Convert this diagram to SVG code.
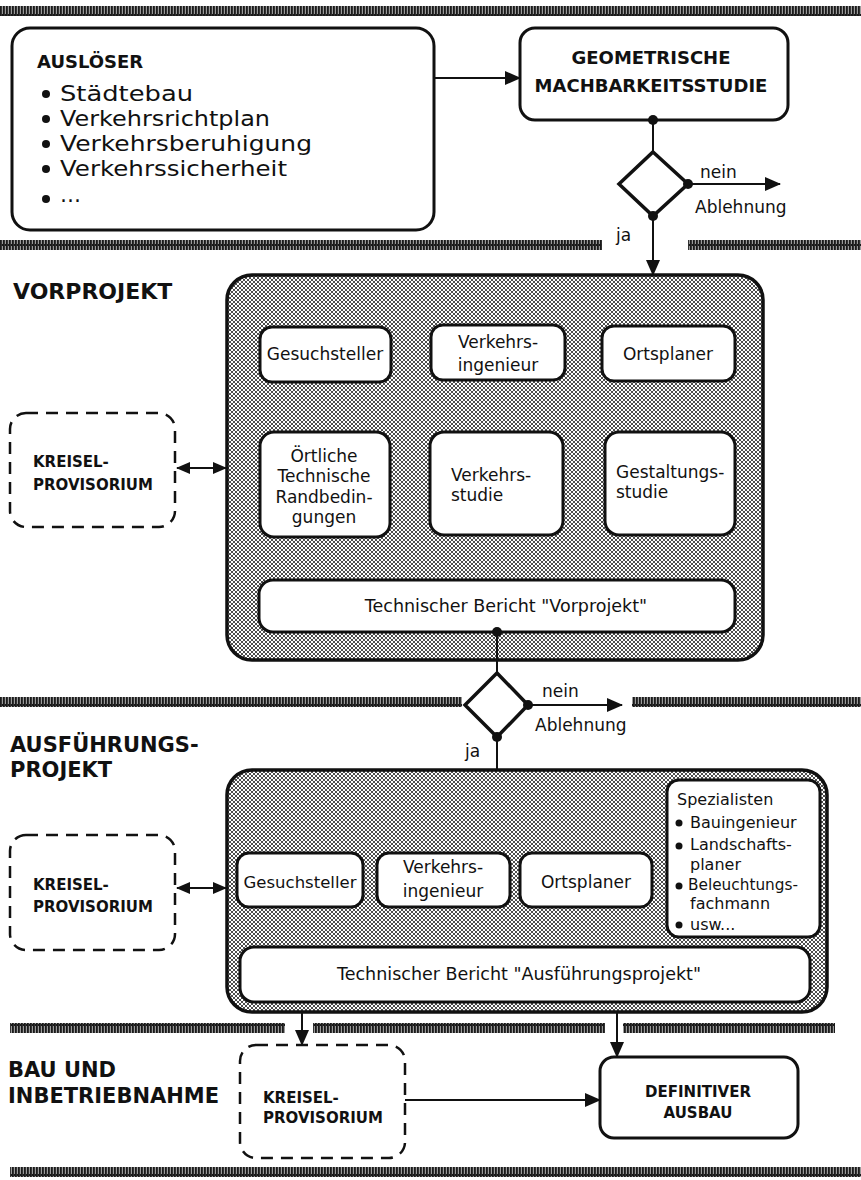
<svg xmlns="http://www.w3.org/2000/svg" width="861" height="1180" viewBox="0 0 861 1180">
<defs>
<pattern id="hatch" patternUnits="userSpaceOnUse" width="4" height="4">
<rect width="4" height="4" fill="#ffffff"/>
<path d="M0 0L4 4M4 0L0 4" stroke="#3a3a3a" stroke-width="0.9"/>
</pattern>
<pattern id="barpat" patternUnits="userSpaceOnUse" width="3" height="10">
<rect width="3" height="10" fill="#9a9a9a"/>
<rect x="0" y="0" width="1.8" height="10" fill="#1a1a1a"/>
<rect x="1.8" y="4" width="1.2" height="2" fill="#1a1a1a"/>
</pattern>
<marker id="ah" viewBox="0 0 16 14" refX="15" refY="7" markerWidth="16" markerHeight="14" markerUnits="userSpaceOnUse" orient="auto-start-reverse">
<path d="M0 0L16 7L0 14z" fill="#111"/>
</marker>
<marker id="ahs" viewBox="0 0 14 12" refX="13" refY="6" markerWidth="14" markerHeight="12" markerUnits="userSpaceOnUse" orient="auto-start-reverse">
<path d="M0 0L14 6L0 12z" fill="#111"/>
</marker>
</defs>
<style>
.box{fill:#fff;stroke:#111;stroke-width:3}
.big{fill:url(#hatch);stroke:#111;stroke-width:3.5}
.dash{fill:#fff;stroke:#111;stroke-width:2.5;stroke-dasharray:12 8}
.bar{fill:url(#barpat)}
.t{font-family:"DejaVu Sans","Liberation Sans",sans-serif;fill:#111}
.b{font-family:"DejaVu Sans","Liberation Sans",sans-serif;font-weight:bold;fill:#111}
.ln{stroke:#111;stroke-width:2;fill:none}
.dot{fill:#111}
.dia{fill:#fff;stroke:#111;stroke-width:3.5}
</style>
<rect width="861" height="1180" fill="#fff"/>

<g id="separators">
<rect class="bar" x="0" y="6" width="861" height="10"/>
<rect class="bar" x="0" y="240" width="602" height="10"/>
<rect class="bar" x="688" y="240" width="173" height="10"/>
<rect class="bar" x="0" y="697" width="462" height="10"/>
<rect class="bar" x="632" y="697" width="229" height="10"/>
<rect class="bar" x="10" y="1023" width="275" height="10"/>
<rect class="bar" x="313" y="1023" width="292" height="10"/>
<rect class="bar" x="623" y="1023" width="212" height="10"/>
<rect class="bar" x="10" y="1167" width="851" height="10"/>
</g>

<g id="phase-labels">
<text class="b" x="13" y="299" font-size="22">VORPROJEKT</text>
<text class="b" x="10" y="752" font-size="21">AUSFÜHRUNGS-</text>
<text class="b" x="10" y="777" font-size="21">PROJEKT</text>
<text class="b" x="8" y="1077" font-size="21">BAU UND</text>
<text class="b" x="8" y="1103" font-size="21">INBETRIEBNAHME</text>
</g>

<g id="ausloeser">
<rect class="box" x="12" y="28" width="422" height="202" rx="18"/>
<text class="b" x="37" y="68" font-size="18">AUSLÖSER</text>
<g class="t" font-size="21" lengthAdjust="spacingAndGlyphs">
<circle class="dot" cx="46" cy="94" r="4"/><text x="60" y="101" textLength="133" lengthAdjust="spacingAndGlyphs">Städtebau</text>
<circle class="dot" cx="46" cy="119" r="4"/><text x="60" y="126" textLength="210" lengthAdjust="spacingAndGlyphs">Verkehrsrichtplan</text>
<circle class="dot" cx="46" cy="144" r="4"/><text x="60" y="151" textLength="252" lengthAdjust="spacingAndGlyphs">Verkehrsberuhigung</text>
<circle class="dot" cx="46" cy="169" r="4"/><text x="60" y="176" textLength="227" lengthAdjust="spacingAndGlyphs">Verkehrssicherheit</text>
<circle class="dot" cx="46" cy="199" r="4"/><text x="60" y="202">…</text>
</g>
</g>

<g id="machbarkeit">
<rect class="box" x="520" y="28" width="268" height="92" rx="15"/>
<text class="b" x="651" y="64" font-size="18" text-anchor="middle">GEOMETRISCHE</text>
<text class="b" x="651" y="92" font-size="18" text-anchor="middle">MACHBARKEITSSTUDIE</text>
</g>

<g id="entscheid1">
<path class="dia" d="M653 152L688 184L653 216L619 184z"/>
</g>

<g id="vorprojekt">
<rect class="big" x="227" y="275" width="536" height="385" rx="25"/>
<rect class="box" x="260" y="327" width="131" height="55" rx="12"/>
<text class="t" x="325" y="360" font-size="17" text-anchor="middle">Gesuchsteller</text>
<rect class="box" x="431" y="325" width="134" height="55" rx="12"/>
<text class="t" x="498" y="348" font-size="17" text-anchor="middle">Verkehrs-</text>
<text class="t" x="498" y="371" font-size="17" text-anchor="middle">ingenieur</text>
<rect class="box" x="602" y="326" width="133" height="55" rx="12"/>
<text class="t" x="668" y="360" font-size="17" text-anchor="middle">Ortsplaner</text>
<rect class="box" x="260" y="432" width="130" height="105" rx="14"/>
<g class="t" font-size="17" text-anchor="middle">
<text x="324" y="462">Örtliche</text>
<text x="324" y="482">Technische</text>
<text x="324" y="503">Randbedin-</text>
<text x="324" y="523">gungen</text>
</g>
<rect class="box" x="430" y="432" width="133" height="103" rx="14"/>
<text class="t" x="451" y="481" font-size="17">Verkehrs-</text>
<text class="t" x="451" y="501" font-size="17">studie</text>
<rect class="box" x="605" y="432" width="130" height="103" rx="14"/>
<text class="t" x="616" y="478" font-size="17">Gestaltungs-</text>
<text class="t" x="616" y="498" font-size="17">studie</text>
<rect class="box" x="259" y="580" width="476" height="52" rx="14"/>
<text class="t" x="506" y="612" font-size="17.5" text-anchor="middle">Technischer Bericht "Vorprojekt"</text>
</g>

<g id="kreisel1">
<rect class="dash" x="10" y="413" width="165" height="114" rx="16"/>
<text class="b" x="33" y="467" font-size="15">KREISEL-</text>
<text class="b" x="33" y="490" font-size="15">PROVISORIUM</text>
</g>

<g id="entscheid2">
<path class="dia" d="M497 673L528 705L497 737L465 705z"/>
</g>

<g id="ausfuehrung">
<rect class="big" x="227" y="770" width="600" height="242" rx="25"/>
<rect class="box" x="237" y="853" width="126" height="54" rx="12"/>
<text class="t" x="300" y="888" font-size="16.5" text-anchor="middle">Gesuchsteller</text>
<rect class="box" x="377" y="853" width="133" height="54" rx="12"/>
<text class="t" x="443" y="873" font-size="17" text-anchor="middle">Verkehrs-</text>
<text class="t" x="443" y="897" font-size="17" text-anchor="middle">ingenieur</text>
<rect class="box" x="520" y="853" width="132" height="54" rx="12"/>
<text class="t" x="586" y="888" font-size="17" text-anchor="middle">Ortsplaner</text>
<rect class="box" x="667" y="780" width="153" height="157" rx="12"/>
<g class="t" font-size="16">
<text x="677" y="805">Spezialisten</text>
<circle class="dot" cx="679" cy="823" r="3.5"/><text x="690" y="828">Bauingenieur</text>
<circle class="dot" cx="679" cy="846" r="3.5"/><text x="690" y="850">Landschafts-</text>
<text x="690" y="870">planer</text>
<circle class="dot" cx="679" cy="886" r="3.5"/><text x="688" y="890" textLength="110" lengthAdjust="spacingAndGlyphs">Beleuchtungs-</text>
<text x="690" y="909">fachmann</text>
<circle class="dot" cx="679" cy="925" r="3.5"/><text x="690" y="930">usw...</text>
</g>
<rect class="box" x="240" y="947" width="570" height="55" rx="14"/>
<text class="t" x="519" y="980" font-size="17.5" text-anchor="middle">Technischer Bericht "Ausführungsprojekt"</text>
</g>

<g id="kreisel2">
<rect class="dash" x="10" y="835" width="165" height="115" rx="16"/>
<text class="b" x="33" y="890" font-size="15">KREISEL-</text>
<text class="b" x="33" y="912" font-size="15">PROVISORIUM</text>
</g>

<g id="kreisel3">
<rect class="dash" x="240" y="1045" width="165" height="113" rx="16"/>
<text class="b" x="263" y="1103" font-size="15">KREISEL-</text>
<text class="b" x="263" y="1123" font-size="15">PROVISORIUM</text>
</g>

<g id="definitiv">
<rect class="box" x="600" y="1057" width="198" height="81" rx="14"/>
<text class="b" x="698" y="1097" font-size="15" text-anchor="middle">DEFINITIVER</text>
<text class="b" x="698" y="1118" font-size="15" text-anchor="middle">AUSBAU</text>
</g>

<g id="connectors">
<line class="ln" x1="435" y1="78" x2="520" y2="78" marker-end="url(#ah)"/>
<line class="ln" x1="653" y1="120" x2="653" y2="152"/>
<circle class="dot" cx="653" cy="120" r="5"/>
<line class="ln" x1="688" y1="184" x2="780" y2="184" marker-end="url(#ah)"/>
<circle class="dot" cx="688" cy="184" r="5"/>
<line class="ln" x1="653" y1="216" x2="653" y2="275" marker-end="url(#ah)"/>
<circle class="dot" cx="653" cy="216" r="5"/>
<text class="t" x="700" y="178" font-size="17">nein</text>
<text class="t" x="695" y="213" font-size="17">Ablehnung</text>
<text class="t" x="616" y="241" font-size="17">ja</text>

<line class="ln" x1="177" y1="468" x2="226" y2="468" marker-start="url(#ahs)" marker-end="url(#ahs)"/>

<line class="ln" x1="497" y1="632" x2="497" y2="673"/>
<circle class="dot" cx="497" cy="632" r="5"/>
<line class="ln" x1="528" y1="705" x2="622" y2="705" marker-end="url(#ah)"/>
<circle class="dot" cx="528" cy="705" r="5"/>
<line class="ln" x1="497" y1="737" x2="497" y2="770"/>
<circle class="dot" cx="497" cy="737" r="5"/>
<text class="t" x="542" y="697" font-size="17">nein</text>
<text class="t" x="535" y="731" font-size="17">Ablehnung</text>
<text class="t" x="465" y="757" font-size="17">ja</text>

<line class="ln" x1="177" y1="888" x2="226" y2="888" marker-start="url(#ahs)" marker-end="url(#ahs)"/>

<line class="ln" x1="302" y1="1012" x2="302" y2="1045" marker-end="url(#ah)"/>
<line class="ln" x1="617" y1="1012" x2="617" y2="1057" marker-end="url(#ah)"/>
<line class="ln" x1="405" y1="1100" x2="600" y2="1100" marker-end="url(#ah)"/>
</g>
</svg>
